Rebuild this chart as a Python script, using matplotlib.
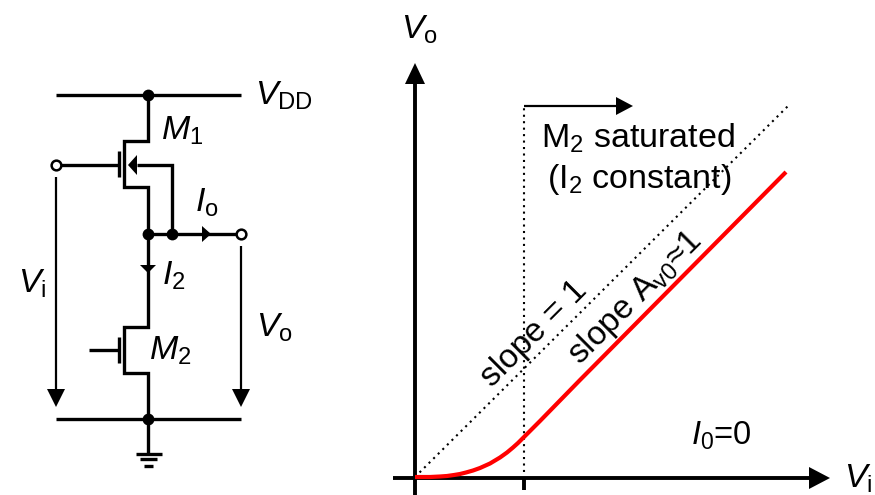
import matplotlib
matplotlib.use("Agg")
import matplotlib.pyplot as plt

plt.rcParams["font.family"] = ["Liberation Sans", "DejaVu Sans"]
plt.rcParams["mathtext.fontset"] = "custom"
plt.rcParams["mathtext.rm"] = "Liberation Sans"
plt.rcParams["mathtext.it"] = "Liberation Sans:italic"
plt.rcParams["mathtext.default"] = "rm"

# transfer curve (pixels)
vi_curve = [415, 430, 440, 447, 454, 460, 466, 473, 480, 490, 500, 507, 513, 518, 523, 540, 580, 786]
vo_curve = [477, 477, 476.5, 476, 475, 474, 472.5, 470.5, 468, 463.5, 457.5, 452.5, 447.5, 443, 438, 421, 380, 172]

# unity slope line and the saturation boundary
unity_x = [415, 788]
unity_y = [477, 106]
sat_x = [524, 524]
sat_y = [472, 106]

# circuit wires: (x list, y list)
wires = [
    ([56, 241], [95, 95]),
    ([148, 148, 124, 124, 148, 148], [95, 141, 141, 187, 187, 233]),
    ([61, 119], [165, 165]),
    ([119, 119], [151, 177]),
    ([137, 172, 172], [165, 165, 234]),
    ([148, 236], [234, 234]),
    ([148, 148, 124, 124, 148, 148, 148], [234, 327, 327, 373, 373, 419, 454]),
    ([119, 119], [337, 363]),
    ([89, 119], [350, 350]),
    ([56, 241], [419, 419]),
    ([136, 162], [454, 454]),
    ([140, 157], [459, 459]),
    ([144, 153], [466, 466]),
]
thin_wires = [
    ([56, 56], [177, 392]),
    ([241, 241], [246, 392]),
    ([524, 618], [106, 106]),
]
axis_wires = [
    ([415, 415], [495, 82]),
    ([393, 811], [478, 478]),
    ([524, 524], [478, 490]),
]
filled_dots = [(148, 95), (148, 234), (172, 234), (148, 419)]
open_dots = [(56, 165), (241, 234)]

# triangles: three corners each
heads = [
    [(128, 165), (137, 155), (137, 175)],
    [(211, 234), (202, 226), (202, 242)],
    [(148, 273), (140, 265), (156, 265)],
    [(56, 407), (47, 389), (65, 389)],
    [(241, 407), (232, 389), (250, 389)],
    [(633, 106), (616, 97), (616, 115)],
    [(415, 63), (405, 84), (425, 84)],
    [(830, 478), (809, 467), (809, 489)],
]

# text, x, y, size, rotation
labels = [
    (r"$\mathit{V}_{\mathrm{DD}}$", 255, 105, 24.5, 0),
    (r"$\mathit{M}_{\mathrm{1}}$", 161, 140, 24.5, 0),
    (r"$\mathit{I}_{\mathrm{o}}$", 195, 212, 24.5, 0),
    (r"$\mathit{I}_{\mathrm{2}}$", 162, 285, 24.5, 0),
    (r"$\mathit{V}_{\mathrm{i}}$", 18, 293, 24.5, 0),
    (r"$\mathit{V}_{\mathrm{o}}$", 256, 337, 24.5, 0),
    (r"$\mathit{M}_{\mathrm{2}}$", 149, 360, 24.5, 0),
    (r"$\mathit{V}_{\mathrm{o}}$", 401, 39, 24.5, 0),
    (r"$\mathit{V}_{\mathrm{i}}$", 844, 488, 24.5, 0),
    (r"M$_{\mathrm{2}}$ saturated", 541, 148, 24.5, 0),
    (r"(I$_{\mathrm{2}}$ constant)", 547, 188, 24.5, 0),
    (r"$\mathit{I}_{\mathrm{0}}$=0", 691, 445, 23.5, 0),
    ("slope = 1", 492, 388, 24, 45),
    (r"slope A$_{\mathrm{v0}}$≈1", 580, 366, 24, 45),
]

fig = plt.figure(figsize=(8.75, 4.95), dpi=100)
ax = fig.add_axes([0, 0, 1, 1])
ax.set_xlim(0, 875)
ax.set_ylim(495, 0)
ax.axis("off")

for xs, ys in wires:
    ax.plot(xs, ys, color="black", lw=2.4, solid_capstyle="butt", solid_joinstyle="miter")
for xs, ys in thin_wires:
    ax.plot(xs, ys, color="black", lw=1.6, solid_capstyle="butt")
for xs, ys in axis_wires:
    ax.plot(xs, ys, color="black", lw=2.8, solid_capstyle="butt")

ax.plot(unity_x, unity_y, color="black", lw=1.5, ls=(0, (1, 2.1)))
ax.plot(sat_x, sat_y, color="black", lw=1.5, ls=(0, (1, 2.1)))
ax.plot(vi_curve, vo_curve, color="#ff0000", lw=3, solid_capstyle="butt",
        solid_joinstyle="round", zorder=4)

for corners in heads:
    ax.fill([c[0] for c in corners], [c[1] for c in corners], color="black", lw=0, zorder=3)
for x, y in filled_dots:
    ax.plot(x, y, "o", color="black", ms=8.5, mew=0, zorder=5)
for x, y in open_dots:
    ax.plot(x, y, "o", mfc="white", mec="black", ms=7, mew=1.8, zorder=5)

for text, x, y, size, rot in labels:
    ax.text(x, y, text, fontsize=size, rotation=rot, rotation_mode="anchor",
            ha="left", va="baseline", color="black", zorder=6)

fig.savefig("out.png", dpi=100)
